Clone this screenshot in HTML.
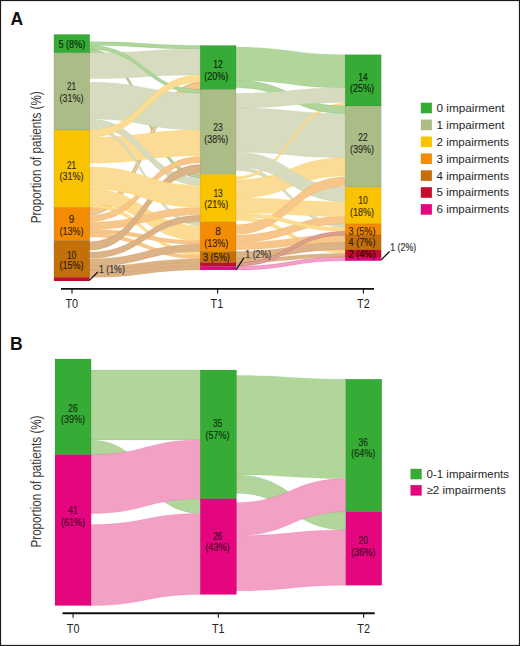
<!DOCTYPE html>
<html><head><meta charset="utf-8"><style>
html,body{margin:0;padding:0;background:#fff;}
body{width:520px;height:646px;overflow:hidden;}
svg{display:block;font-family:"Liberation Sans", sans-serif;}
</style></head><body>
<svg width="520" height="646" viewBox="0 0 520 646">
<rect x="0" y="0" width="520" height="646" fill="#fff"/>
<path d="M88.70,49.14 C144.95,49.14 144.95,174.26 201.20,174.26 L201.20,177.94 C144.95,177.94 144.95,52.82 88.70,52.82 Z" fill="#b1d59b" fill-opacity="1.0" stroke="#6a6a5a" stroke-opacity="0.55" stroke-width="0.6"/>
<path d="M88.70,207.38 C144.95,207.38 144.95,82.26 201.20,82.26 L201.20,89.62 C144.95,89.62 144.95,214.74 88.70,214.74 Z" fill="#f7c68b" fill-opacity="1.0" stroke="#6a6a5a" stroke-opacity="0.55" stroke-width="0.6"/>
<path d="M88.70,41.78 C144.95,41.78 144.95,45.46 201.20,45.46 L201.20,49.14 C144.95,49.14 144.95,45.46 88.70,45.46 Z" fill="#b1d59b" fill-opacity="1.0" stroke="#36ab35" stroke-opacity="0.3" stroke-width="0.6"/>
<path d="M88.70,52.82 C144.95,52.82 144.95,49.14 201.20,49.14 L201.20,74.90 C144.95,74.90 144.95,78.58 88.70,78.58 Z" fill="#d7dcc0" fill-opacity="1.0" stroke="#acbc87" stroke-opacity="0.3" stroke-width="0.6"/>
<path d="M88.70,82.26 C144.95,82.26 144.95,93.30 201.20,93.30 L201.20,130.10 C144.95,130.10 144.95,119.06 88.70,119.06 Z" fill="#d7dcc0" fill-opacity="1.0" stroke="#acbc87" stroke-opacity="0.3" stroke-width="0.6"/>
<path d="M88.70,137.46 C144.95,137.46 144.95,130.10 201.20,130.10 L201.20,155.86 C144.95,155.86 144.95,163.22 88.70,163.22 Z" fill="#fcdc94" fill-opacity="1.0" stroke="#f9c300" stroke-opacity="0.3" stroke-width="0.6"/>
<path d="M88.70,45.46 C144.95,45.46 144.95,89.62 201.20,89.62 L201.20,93.30 C144.95,93.30 144.95,49.14 88.70,49.14 Z" fill="#b1d59b" fill-opacity="1.0" stroke="#36ab35" stroke-opacity="0.3" stroke-width="0.6"/>
<path d="M88.70,119.06 C144.95,119.06 144.95,177.94 201.20,177.94 L201.20,185.30 C144.95,185.30 144.95,126.42 88.70,126.42 Z" fill="#d7dcc0" fill-opacity="1.0" stroke="#acbc87" stroke-opacity="0.3" stroke-width="0.6"/>
<path d="M88.70,126.42 C144.95,126.42 144.95,222.10 201.20,222.10 L201.20,225.78 C144.95,225.78 144.95,130.10 88.70,130.10 Z" fill="#d7dcc0" fill-opacity="1.0" stroke="#acbc87" stroke-opacity="0.3" stroke-width="0.6"/>
<path d="M88.70,130.10 C144.95,130.10 144.95,74.90 201.20,74.90 L201.20,82.26 C144.95,82.26 144.95,137.46 88.70,137.46 Z" fill="#fcdc94" fill-opacity="1.0" stroke="#f9c300" stroke-opacity="0.3" stroke-width="0.6"/>
<path d="M88.70,188.98 C144.95,188.98 144.95,225.78 201.20,225.78 L201.20,240.50 C144.95,240.50 144.95,203.70 88.70,203.70 Z" fill="#fcdc94" fill-opacity="1.0" stroke="#f9c300" stroke-opacity="0.3" stroke-width="0.6"/>
<path d="M88.70,203.70 C144.95,203.70 144.95,251.54 201.20,251.54 L201.20,255.22 C144.95,255.22 144.95,207.38 88.70,207.38 Z" fill="#fcdc94" fill-opacity="1.0" stroke="#f9c300" stroke-opacity="0.3" stroke-width="0.6"/>
<path d="M88.70,222.10 C144.95,222.10 144.95,207.38 201.20,207.38 L201.20,214.74 C144.95,214.74 144.95,229.46 88.70,229.46 Z" fill="#f7c68b" fill-opacity="1.0" stroke="#f38c03" stroke-opacity="0.3" stroke-width="0.6"/>
<path d="M88.70,229.46 C144.95,229.46 144.95,240.50 201.20,240.50 L201.20,244.18 C144.95,244.18 144.95,233.14 88.70,233.14 Z" fill="#f7c68b" fill-opacity="1.0" stroke="#f38c03" stroke-opacity="0.3" stroke-width="0.6"/>
<path d="M88.70,233.14 C144.95,233.14 144.95,255.22 201.20,255.22 L201.20,258.90 C144.95,258.90 144.95,236.82 88.70,236.82 Z" fill="#f7c68b" fill-opacity="1.0" stroke="#f38c03" stroke-opacity="0.3" stroke-width="0.6"/>
<path d="M88.70,252.09 C144.95,252.09 144.95,215.29 201.20,215.29 L201.20,221.55 C144.95,221.55 144.95,258.35 88.70,258.35 Z" fill="#dcb387" fill-opacity="1.0" stroke="#c3700a" stroke-opacity="0.3" stroke-width="0.6"/>
<path d="M88.70,258.90 C144.95,258.90 144.95,244.18 201.20,244.18 L201.20,251.54 C144.95,251.54 144.95,266.26 88.70,266.26 Z" fill="#dcb387" fill-opacity="1.0" stroke="#c3700a" stroke-opacity="0.3" stroke-width="0.6"/>
<path d="M88.70,266.26 C144.95,266.26 144.95,258.90 201.20,258.90 L201.20,262.58 C144.95,262.58 144.95,269.94 88.70,269.94 Z" fill="#dcb387" fill-opacity="1.0" stroke="#c3700a" stroke-opacity="0.3" stroke-width="0.6"/>
<path d="M88.70,269.94 C144.95,269.94 144.95,262.58 201.20,262.58 L201.20,266.26 C144.95,266.26 144.95,273.62 88.70,273.62 Z" fill="#dcb387" fill-opacity="1.0" stroke="#c3700a" stroke-opacity="0.3" stroke-width="0.6"/>
<path d="M88.70,273.62 C144.95,273.62 144.95,266.26 201.20,266.26 L201.20,269.94 C144.95,269.94 144.95,277.30 88.70,277.30 Z" fill="#dcb387" fill-opacity="1.0" stroke="#c3700a" stroke-opacity="0.3" stroke-width="0.6"/>
<path d="M88.70,215.29 C144.95,215.29 144.95,156.41 201.20,156.41 L201.20,162.67 C144.95,162.67 144.95,221.55 88.70,221.55 Z" fill="#f7c68b" fill-opacity="1.0" stroke="#f38c03" stroke-opacity="0.3" stroke-width="0.6"/>
<path d="M88.70,241.88 C144.95,241.88 144.95,164.60 201.20,164.60 L201.20,172.88 C144.95,172.88 144.95,250.16 88.70,250.16 Z" fill="#dcb387" fill-opacity="1.0" stroke="#c3700a" stroke-opacity="0.3" stroke-width="0.6"/>
<path d="M88.70,166.90 C144.95,166.90 144.95,185.30 201.20,185.30 L201.20,207.38 C144.95,207.38 144.95,188.98 88.70,188.98 Z" fill="#fcdc94" fill-opacity="1.0" stroke="#f9c300" stroke-opacity="0.3" stroke-width="0.6"/>
<path d="M235.00,47.30 C290.60,47.30 290.60,54.66 346.20,54.66 L346.20,87.78 C290.60,87.78 290.60,80.42 235.00,80.42 Z" fill="#b1d59b" fill-opacity="1.0" stroke="#36ab35" stroke-opacity="0.3" stroke-width="0.6"/>
<path d="M235.00,108.02 C290.60,108.02 290.60,113.54 346.20,113.54 L346.20,157.70 C290.60,157.70 290.60,152.18 235.00,152.18 Z" fill="#d7dcc0" fill-opacity="1.0" stroke="#acbc87" stroke-opacity="0.3" stroke-width="0.6"/>
<path d="M235.00,166.90 C290.60,166.90 290.60,223.94 346.20,223.94 L346.20,227.62 C290.60,227.62 290.60,170.58 235.00,170.58 Z" fill="#d7dcc0" fill-opacity="1.0" stroke="#acbc87" stroke-opacity="0.3" stroke-width="0.6"/>
<path d="M235.00,179.78 C290.60,179.78 290.60,157.70 346.20,157.70 L346.20,176.10 C290.60,176.10 290.60,198.18 235.00,198.18 Z" fill="#fcdc94" fill-opacity="1.0" stroke="#f9c300" stroke-opacity="0.3" stroke-width="0.6"/>
<path d="M235.00,176.65 C290.60,176.65 290.60,103.05 346.20,103.05 L346.20,105.63 C290.60,105.63 290.60,179.23 235.00,179.23 Z" fill="#fcdc94" fill-opacity="1.0" stroke="#f9c300" stroke-opacity="0.3" stroke-width="0.6"/>
<path d="M235.00,80.42 C290.60,80.42 290.60,106.18 346.20,106.18 L346.20,113.54 C290.60,113.54 290.60,87.78 235.00,87.78 Z" fill="#b1d59b" fill-opacity="1.0" stroke="#36ab35" stroke-opacity="0.3" stroke-width="0.6"/>
<path d="M235.00,93.30 C290.60,93.30 290.60,87.78 346.20,87.78 L346.20,102.50 C290.60,102.50 290.60,108.02 235.00,108.02 Z" fill="#d7dcc0" fill-opacity="1.0" stroke="#acbc87" stroke-opacity="0.3" stroke-width="0.6"/>
<path d="M235.00,198.18 C290.60,198.18 290.60,201.86 346.20,201.86 L346.20,216.58 C290.60,216.58 290.60,212.90 235.00,212.90 Z" fill="#fcdc94" fill-opacity="1.0" stroke="#f9c300" stroke-opacity="0.3" stroke-width="0.6"/>
<path d="M235.00,216.58 C290.60,216.58 290.60,249.70 346.20,249.70 L346.20,253.38 C290.60,253.38 290.60,220.26 235.00,220.26 Z" fill="#fcdc94" fill-opacity="1.0" stroke="#f9c300" stroke-opacity="0.3" stroke-width="0.6"/>
<path d="M235.00,234.98 C290.60,234.98 290.60,216.58 346.20,216.58 L346.20,223.94 C290.60,223.94 290.60,242.34 235.00,242.34 Z" fill="#f7c68b" fill-opacity="1.0" stroke="#f38c03" stroke-opacity="0.3" stroke-width="0.6"/>
<path d="M235.00,242.34 C290.60,242.34 290.60,234.98 346.20,234.98 L346.20,242.34 C290.60,242.34 290.60,249.70 235.00,249.70 Z" fill="#f7c68b" fill-opacity="1.0" stroke="#f38c03" stroke-opacity="0.3" stroke-width="0.6"/>
<path d="M235.00,251.54 C290.60,251.54 290.60,242.34 346.20,242.34 L346.20,249.70 C290.60,249.70 290.60,258.90 235.00,258.90 Z" fill="#dcb387" fill-opacity="1.0" stroke="#c3700a" stroke-opacity="0.3" stroke-width="0.6"/>
<path d="M235.00,258.90 C290.60,258.90 290.60,253.38 346.20,253.38 L346.20,257.06 C290.60,257.06 290.60,262.58 235.00,262.58 Z" fill="#dcb387" fill-opacity="1.0" stroke="#c3700a" stroke-opacity="0.3" stroke-width="0.6"/>
<path d="M235.00,266.26 C290.60,266.26 290.60,257.06 346.20,257.06 L346.20,260.74 C290.60,260.74 290.60,269.94 235.00,269.94 Z" fill="#f2a0c8" fill-opacity="1.0" stroke="#e5067f" stroke-opacity="0.3" stroke-width="0.6"/>
<path d="M235.00,152.18 C290.60,152.18 290.60,187.14 346.20,187.14 L346.20,201.86 C290.60,201.86 290.60,166.90 235.00,166.90 Z" fill="#d7dcc0" fill-opacity="1.0" stroke="#acbc87" stroke-opacity="0.3" stroke-width="0.6"/>
<path d="M235.00,224.77 C290.60,224.77 290.60,176.93 346.20,176.93 L346.20,186.31 C290.60,186.31 290.60,234.15 235.00,234.15 Z" fill="#f7c68b" fill-opacity="1.0" stroke="#f38c03" stroke-opacity="0.3" stroke-width="0.6"/>
<path d="M235.00,212.90 C290.60,212.90 290.60,227.62 346.20,227.62 L346.20,231.30 C290.60,231.30 290.60,216.58 235.00,216.58 Z" fill="#fcdc94" fill-opacity="1.0" stroke="#f9c300" stroke-opacity="0.3" stroke-width="0.6"/>
<path d="M235.00,262.58 C290.60,262.58 290.60,231.30 346.20,231.30 L346.20,234.98 C290.60,234.98 290.60,266.26 235.00,266.26 Z" fill="#d9a08e" fill-opacity="1.0" stroke="#c50d2c" stroke-opacity="0.3" stroke-width="0.6"/>
<rect x="53.90" y="34.42" width="35.80" height="18.40" fill="#36ab35" stroke="#000" stroke-opacity="0.10" stroke-width="0.7"/>
<rect x="53.90" y="52.82" width="35.80" height="77.28" fill="#acbc87" stroke="#000" stroke-opacity="0.10" stroke-width="0.7"/>
<rect x="53.90" y="130.10" width="35.80" height="77.28" fill="#f9c300" stroke="#000" stroke-opacity="0.10" stroke-width="0.7"/>
<rect x="53.90" y="207.38" width="35.80" height="33.12" fill="#f38c03" stroke="#000" stroke-opacity="0.10" stroke-width="0.7"/>
<rect x="53.90" y="240.50" width="35.80" height="36.80" fill="#c3700a" stroke="#000" stroke-opacity="0.10" stroke-width="0.7"/>
<rect x="53.90" y="277.30" width="35.80" height="3.68" fill="#c50d2c" stroke="#000" stroke-opacity="0.10" stroke-width="0.7"/>
<rect x="200.20" y="45.46" width="35.80" height="44.16" fill="#36ab35" stroke="#000" stroke-opacity="0.10" stroke-width="0.7"/>
<rect x="200.20" y="89.62" width="35.80" height="84.64" fill="#acbc87" stroke="#000" stroke-opacity="0.10" stroke-width="0.7"/>
<rect x="200.20" y="174.26" width="35.80" height="47.84" fill="#f9c300" stroke="#000" stroke-opacity="0.10" stroke-width="0.7"/>
<rect x="200.20" y="222.10" width="35.80" height="29.44" fill="#f38c03" stroke="#000" stroke-opacity="0.10" stroke-width="0.7"/>
<rect x="200.20" y="251.54" width="35.80" height="11.04" fill="#c3700a" stroke="#000" stroke-opacity="0.10" stroke-width="0.7"/>
<rect x="200.20" y="262.58" width="35.80" height="3.68" fill="#c50d2c" stroke="#000" stroke-opacity="0.10" stroke-width="0.7"/>
<rect x="200.20" y="266.26" width="35.80" height="3.68" fill="#e5067f" stroke="#000" stroke-opacity="0.10" stroke-width="0.7"/>
<rect x="345.20" y="54.66" width="36.00" height="51.52" fill="#36ab35" stroke="#000" stroke-opacity="0.10" stroke-width="0.7"/>
<rect x="345.20" y="106.18" width="36.00" height="80.96" fill="#acbc87" stroke="#000" stroke-opacity="0.10" stroke-width="0.7"/>
<rect x="345.20" y="187.14" width="36.00" height="36.80" fill="#f9c300" stroke="#000" stroke-opacity="0.10" stroke-width="0.7"/>
<rect x="345.20" y="223.94" width="36.00" height="11.04" fill="#f38c03" stroke="#000" stroke-opacity="0.10" stroke-width="0.7"/>
<rect x="345.20" y="234.98" width="36.00" height="14.72" fill="#c3700a" stroke="#000" stroke-opacity="0.10" stroke-width="0.7"/>
<rect x="345.20" y="249.70" width="36.00" height="7.36" fill="#c50d2c" stroke="#000" stroke-opacity="0.10" stroke-width="0.7"/>
<rect x="345.20" y="257.06" width="36.00" height="3.68" fill="#e5067f" stroke="#000" stroke-opacity="0.10" stroke-width="0.7"/>
<text x="71.90" y="47.70" font-size="10" text-anchor="middle" fill="#0b250b" stroke="#0b250b" stroke-width="0.12" textLength="26.8" lengthAdjust="spacingAndGlyphs">5 (8%)</text>
<text x="71.60" y="89.70" font-size="10" text-anchor="middle" fill="#25291d" stroke="#25291d" stroke-width="0.12" textLength="9.0" lengthAdjust="spacingAndGlyphs">21</text><text x="71.60" y="101.50" font-size="10" text-anchor="middle" fill="#25291d" stroke="#25291d" stroke-width="0.12" textLength="24.0" lengthAdjust="spacingAndGlyphs">(31%)</text>
<text x="71.60" y="168.70" font-size="10" text-anchor="middle" fill="#362a00" stroke="#362a00" stroke-width="0.12" textLength="9.0" lengthAdjust="spacingAndGlyphs">21</text><text x="71.60" y="180.40" font-size="10" text-anchor="middle" fill="#362a00" stroke="#362a00" stroke-width="0.12" textLength="24.0" lengthAdjust="spacingAndGlyphs">(31%)</text>
<text x="71.60" y="223.20" font-size="10" text-anchor="middle" fill="#351e00" stroke="#351e00" stroke-width="0.12">9</text><text x="71.60" y="234.60" font-size="10" text-anchor="middle" fill="#351e00" stroke="#351e00" stroke-width="0.12" textLength="24.0" lengthAdjust="spacingAndGlyphs">(13%)</text>
<text x="71.60" y="258.50" font-size="10" text-anchor="middle" fill="#2a1802" stroke="#2a1802" stroke-width="0.12" textLength="9.4" lengthAdjust="spacingAndGlyphs">10</text><text x="71.60" y="269.00" font-size="10" text-anchor="middle" fill="#2a1802" stroke="#2a1802" stroke-width="0.12" textLength="24.0" lengthAdjust="spacingAndGlyphs">(15%)</text>
<text x="218.00" y="68.00" font-size="10" text-anchor="middle" fill="#0b250b" stroke="#0b250b" stroke-width="0.12" textLength="9.6" lengthAdjust="spacingAndGlyphs">12</text><text x="216.20" y="79.60" font-size="10" text-anchor="middle" fill="#0b250b" stroke="#0b250b" stroke-width="0.12" textLength="24.0" lengthAdjust="spacingAndGlyphs">(20%)</text>
<text x="218.00" y="131.10" font-size="10" text-anchor="middle" fill="#25291d" stroke="#25291d" stroke-width="0.12" textLength="9.4" lengthAdjust="spacingAndGlyphs">23</text><text x="216.20" y="143.00" font-size="10" text-anchor="middle" fill="#25291d" stroke="#25291d" stroke-width="0.12" textLength="24.0" lengthAdjust="spacingAndGlyphs">(38%)</text>
<text x="218.00" y="196.80" font-size="10" text-anchor="middle" fill="#362a00" stroke="#362a00" stroke-width="0.12" textLength="9.2" lengthAdjust="spacingAndGlyphs">13</text><text x="216.20" y="208.40" font-size="10" text-anchor="middle" fill="#362a00" stroke="#362a00" stroke-width="0.12" textLength="24.0" lengthAdjust="spacingAndGlyphs">(21%)</text>
<text x="218.00" y="235.20" font-size="10" text-anchor="middle" fill="#351e00" stroke="#351e00" stroke-width="0.12">8</text><text x="216.20" y="247.30" font-size="10" text-anchor="middle" fill="#351e00" stroke="#351e00" stroke-width="0.12" textLength="24.0" lengthAdjust="spacingAndGlyphs">(13%)</text>
<text x="216.40" y="261.00" font-size="10" text-anchor="middle" fill="#2a1802" stroke="#2a1802" stroke-width="0.12" textLength="27" lengthAdjust="spacingAndGlyphs">3 (5%)</text>
<text x="363.00" y="81.10" font-size="10" text-anchor="middle" fill="#0b250b" stroke="#0b250b" stroke-width="0.12" textLength="9.4" lengthAdjust="spacingAndGlyphs">14</text><text x="361.90" y="92.00" font-size="10" text-anchor="middle" fill="#0b250b" stroke="#0b250b" stroke-width="0.12" textLength="24.0" lengthAdjust="spacingAndGlyphs">(25%)</text>
<text x="363.00" y="141.40" font-size="10" text-anchor="middle" fill="#25291d" stroke="#25291d" stroke-width="0.12" textLength="9.4" lengthAdjust="spacingAndGlyphs">22</text><text x="361.90" y="153.10" font-size="10" text-anchor="middle" fill="#25291d" stroke="#25291d" stroke-width="0.12" textLength="24.0" lengthAdjust="spacingAndGlyphs">(39%)</text>
<text x="363.00" y="204.30" font-size="10" text-anchor="middle" fill="#362a00" stroke="#362a00" stroke-width="0.12" textLength="9.4" lengthAdjust="spacingAndGlyphs">10</text><text x="361.90" y="215.60" font-size="10" text-anchor="middle" fill="#362a00" stroke="#362a00" stroke-width="0.12" textLength="24.0" lengthAdjust="spacingAndGlyphs">(18%)</text>
<text x="362.00" y="234.60" font-size="10" text-anchor="middle" fill="#351e00" stroke="#351e00" stroke-width="0.12" textLength="27" lengthAdjust="spacingAndGlyphs">3 (5%)</text>
<text x="362.00" y="246.40" font-size="10" text-anchor="middle" fill="#2a1802" stroke="#2a1802" stroke-width="0.12" textLength="27" lengthAdjust="spacingAndGlyphs">4 (7%)</text>
<text x="362.00" y="257.60" font-size="10" text-anchor="middle" fill="#2b0209" stroke="#2b0209" stroke-width="0.12" textLength="27" lengthAdjust="spacingAndGlyphs">2 (4%)</text>
<line x1="89.40" y1="280.40" x2="97.80" y2="272.00" stroke="#111" stroke-width="1.2"/><text x="98.90" y="273.00" font-size="10" text-anchor="start" fill="#3a3a3a" stroke="#3a3a3a" stroke-width="0.2" textLength="26" lengthAdjust="spacingAndGlyphs">1 (1%)</text>
<line x1="236.20" y1="269.60" x2="244.00" y2="257.60" stroke="#111" stroke-width="1.2"/><text x="245.30" y="257.60" font-size="10" text-anchor="start" fill="#3a3a3a" stroke="#3a3a3a" stroke-width="0.2" textLength="26" lengthAdjust="spacingAndGlyphs">1 (2%)</text>
<line x1="381.30" y1="259.70" x2="389.60" y2="251.50" stroke="#111" stroke-width="1.2"/><text x="390.20" y="251.40" font-size="10" text-anchor="start" fill="#3a3a3a" stroke="#3a3a3a" stroke-width="0.2" textLength="26" lengthAdjust="spacingAndGlyphs">1 (2%)</text>
<line x1="61" y1="288.9" x2="374" y2="288.9" stroke="#111" stroke-width="1.9"/>
<line x1="72" y1="288.9" x2="72" y2="293.5" stroke="#111" stroke-width="1.1"/>
<text x="71.80" y="308.30" font-size="12" text-anchor="middle" fill="#222" textLength="12.6" lengthAdjust="spacingAndGlyphs">T0</text>
<line x1="217.6" y1="288.9" x2="217.6" y2="293.5" stroke="#111" stroke-width="1.1"/>
<text x="216.90" y="308.30" font-size="12" text-anchor="middle" fill="#222" textLength="12.6" lengthAdjust="spacingAndGlyphs">T1</text>
<line x1="363.4" y1="288.9" x2="363.4" y2="293.5" stroke="#111" stroke-width="1.1"/>
<text x="363.40" y="308.30" font-size="12" text-anchor="middle" fill="#222" textLength="12.6" lengthAdjust="spacingAndGlyphs">T2</text>
<text transform="translate(40.6,157.3) rotate(-90)" x="0" y="0" font-size="14.6" text-anchor="middle" fill="#3a3a3a" textLength="132" lengthAdjust="spacingAndGlyphs">Proportion of patients (%)</text>
<text x="10.6" y="24.8" font-size="17.5" font-weight="bold" fill="#111">A</text>
<rect x="420.8" y="102.70" width="11.1" height="10.6" fill="#36ab35"/>
<text x="436.50" y="111.90" font-size="11" text-anchor="start" fill="#262626" textLength="68" lengthAdjust="spacingAndGlyphs">0 impairment</text>
<rect x="420.8" y="119.60" width="11.1" height="10.6" fill="#acbc87"/>
<text x="436.50" y="128.80" font-size="11" text-anchor="start" fill="#262626" textLength="68" lengthAdjust="spacingAndGlyphs">1 impairment</text>
<rect x="420.8" y="136.50" width="11.1" height="10.6" fill="#f9c300"/>
<text x="436.50" y="145.70" font-size="11" text-anchor="start" fill="#262626" textLength="72.5" lengthAdjust="spacingAndGlyphs">2 impairments</text>
<rect x="420.8" y="153.40" width="11.1" height="10.6" fill="#f38c03"/>
<text x="436.50" y="162.60" font-size="11" text-anchor="start" fill="#262626" textLength="72.5" lengthAdjust="spacingAndGlyphs">3 impairments</text>
<rect x="420.8" y="170.30" width="11.1" height="10.6" fill="#c3700a"/>
<text x="436.50" y="179.50" font-size="11" text-anchor="start" fill="#262626" textLength="72.5" lengthAdjust="spacingAndGlyphs">4 impairments</text>
<rect x="420.8" y="187.20" width="11.1" height="10.6" fill="#c50d2c"/>
<text x="436.50" y="196.40" font-size="11" text-anchor="start" fill="#262626" textLength="72.5" lengthAdjust="spacingAndGlyphs">5 impairments</text>
<rect x="420.8" y="204.10" width="11.1" height="10.6" fill="#e5067f"/>
<text x="436.50" y="213.30" font-size="11" text-anchor="start" fill="#262626" textLength="72.5" lengthAdjust="spacingAndGlyphs">6 impairments</text>
<path d="M90.10,370.01 C145.70,370.01 145.70,370.01 201.30,370.01 L201.30,439.93 C145.70,439.93 145.70,439.93 90.10,439.93 Z" fill="#b1d59b" fill-opacity="1.0" stroke="#36ab35" stroke-opacity="0.2" stroke-width="0.6"/>
<path d="M90.10,439.93 C145.70,439.93 145.70,498.81 201.30,498.81 L201.30,513.53 C145.70,513.53 145.70,454.65 90.10,454.65 Z" fill="#b1d59b" fill-opacity="1.0" stroke="#36ab35" stroke-opacity="0.2" stroke-width="0.6"/>
<path d="M90.10,454.65 C145.70,454.65 145.70,439.93 201.30,439.93 L201.30,498.81 C145.70,498.81 145.70,513.53 90.10,513.53 Z" fill="#f2a0c4" fill-opacity="1.0" stroke="#e5067f" stroke-opacity="0.2" stroke-width="0.6"/>
<path d="M90.10,524.57 C145.70,524.57 145.70,513.53 201.30,513.53 L201.30,594.49 C145.70,594.49 145.70,605.53 90.10,605.53 Z" fill="#f2a0c4" fill-opacity="1.0" stroke="#e5067f" stroke-opacity="0.2" stroke-width="0.6"/>
<path d="M235.50,375.53 C291.15,375.53 291.15,379.21 346.80,379.21 L346.80,478.57 C291.15,478.57 291.15,474.89 235.50,474.89 Z" fill="#b1d59b" fill-opacity="1.0" stroke="#36ab35" stroke-opacity="0.2" stroke-width="0.6"/>
<path d="M235.50,474.89 C291.15,474.89 291.15,511.69 346.80,511.69 L346.80,530.09 C291.15,530.09 291.15,493.29 235.50,493.29 Z" fill="#b1d59b" fill-opacity="1.0" stroke="#36ab35" stroke-opacity="0.2" stroke-width="0.6"/>
<path d="M235.50,502.49 C291.15,502.49 291.15,478.57 346.80,478.57 L346.80,511.69 C291.15,511.69 291.15,535.61 235.50,535.61 Z" fill="#f2a0c4" fill-opacity="1.0" stroke="#e5067f" stroke-opacity="0.2" stroke-width="0.6"/>
<path d="M235.50,535.61 C291.15,535.61 291.15,530.09 346.80,530.09 L346.80,585.29 C291.15,585.29 291.15,590.81 235.50,590.81 Z" fill="#f2a0c4" fill-opacity="1.0" stroke="#e5067f" stroke-opacity="0.2" stroke-width="0.6"/>
<rect x="55.00" y="358.97" width="36.10" height="95.68" fill="#36ab35" stroke="#000" stroke-opacity="0.10" stroke-width="0.7"/>
<rect x="55.00" y="454.65" width="36.10" height="150.88" fill="#e5067f" stroke="#000" stroke-opacity="0.10" stroke-width="0.7"/>
<rect x="200.30" y="370.01" width="36.20" height="128.80" fill="#36ab35" stroke="#000" stroke-opacity="0.10" stroke-width="0.7"/>
<rect x="200.30" y="498.81" width="36.20" height="95.68" fill="#e5067f" stroke="#000" stroke-opacity="0.10" stroke-width="0.7"/>
<rect x="345.80" y="379.21" width="36.00" height="132.48" fill="#36ab35" stroke="#000" stroke-opacity="0.10" stroke-width="0.7"/>
<rect x="345.80" y="511.69" width="36.00" height="73.60" fill="#e5067f" stroke="#000" stroke-opacity="0.10" stroke-width="0.7"/>
<text x="72.90" y="411.60" font-size="10" text-anchor="middle" fill="#10330f" stroke="#10330f" stroke-width="0.15" textLength="9.4" lengthAdjust="spacingAndGlyphs">26</text><text x="72.90" y="423.30" font-size="10" text-anchor="middle" fill="#10330f" stroke="#10330f" stroke-width="0.15" textLength="24.0" lengthAdjust="spacingAndGlyphs">(39%)</text>
<text x="72.90" y="513.50" font-size="10" text-anchor="middle" fill="#440126" stroke="#440126" stroke-width="0.15" textLength="9.4" lengthAdjust="spacingAndGlyphs">41</text><text x="72.90" y="525.80" font-size="10" text-anchor="middle" fill="#440126" stroke="#440126" stroke-width="0.15" textLength="24.0" lengthAdjust="spacingAndGlyphs">(61%)</text>
<text x="217.60" y="427.00" font-size="10" text-anchor="middle" fill="#10330f" stroke="#10330f" stroke-width="0.15" textLength="9.4" lengthAdjust="spacingAndGlyphs">35</text><text x="217.60" y="439.00" font-size="10" text-anchor="middle" fill="#10330f" stroke="#10330f" stroke-width="0.15" textLength="24.0" lengthAdjust="spacingAndGlyphs">(57%)</text>
<text x="217.60" y="539.60" font-size="10" text-anchor="middle" fill="#440126" stroke="#440126" stroke-width="0.15" textLength="9.4" lengthAdjust="spacingAndGlyphs">26</text><text x="217.60" y="550.90" font-size="10" text-anchor="middle" fill="#440126" stroke="#440126" stroke-width="0.15" textLength="24.0" lengthAdjust="spacingAndGlyphs">(43%)</text>
<text x="363.20" y="445.70" font-size="10" text-anchor="middle" fill="#10330f" stroke="#10330f" stroke-width="0.15" textLength="9.4" lengthAdjust="spacingAndGlyphs">36</text><text x="363.20" y="457.40" font-size="10" text-anchor="middle" fill="#10330f" stroke="#10330f" stroke-width="0.15" textLength="24.0" lengthAdjust="spacingAndGlyphs">(64%)</text>
<text x="363.20" y="543.90" font-size="10" text-anchor="middle" fill="#440126" stroke="#440126" stroke-width="0.15" textLength="9.4" lengthAdjust="spacingAndGlyphs">20</text><text x="363.20" y="555.90" font-size="10" text-anchor="middle" fill="#440126" stroke="#440126" stroke-width="0.15" textLength="24.0" lengthAdjust="spacingAndGlyphs">(36%)</text>
<line x1="62.5" y1="613.2" x2="374.7" y2="613.2" stroke="#111" stroke-width="1.9"/>
<line x1="73.1" y1="613.2" x2="73.1" y2="617.8000000000001" stroke="#111" stroke-width="1.1"/>
<text x="73.10" y="632.50" font-size="12" text-anchor="middle" fill="#222" textLength="12.6" lengthAdjust="spacingAndGlyphs">T0</text>
<line x1="218.3" y1="613.2" x2="218.3" y2="617.8000000000001" stroke="#111" stroke-width="1.1"/>
<text x="218.30" y="632.50" font-size="12" text-anchor="middle" fill="#222" textLength="12.6" lengthAdjust="spacingAndGlyphs">T1</text>
<line x1="363.6" y1="613.2" x2="363.6" y2="617.8000000000001" stroke="#111" stroke-width="1.1"/>
<text x="363.60" y="632.50" font-size="12" text-anchor="middle" fill="#222" textLength="12.6" lengthAdjust="spacingAndGlyphs">T2</text>
<text transform="translate(40.6,481.5) rotate(-90)" x="0" y="0" font-size="14.6" text-anchor="middle" fill="#3a3a3a" textLength="132" lengthAdjust="spacingAndGlyphs">Proportion of patients (%)</text>
<text x="9.9" y="349.5" font-size="17.5" font-weight="bold" fill="#111">B</text>
<rect x="410.5" y="468.80" width="11.2" height="10.5" fill="#36ab35"/>
<text x="426.50" y="478.00" font-size="11" text-anchor="start" fill="#262626" textLength="82.5" lengthAdjust="spacingAndGlyphs">0-1 impairments</text>
<rect x="410.5" y="485.10" width="11.2" height="10.5" fill="#e5067f"/>
<text x="426.50" y="494.30" font-size="11" text-anchor="start" fill="#262626" textLength="79.2" lengthAdjust="spacingAndGlyphs">≥2 impairments</text>
<rect x="0.5" y="0.5" width="519" height="645" fill="none" stroke="#1a1a1a" stroke-width="1.2"/>
</svg>
</body></html>
